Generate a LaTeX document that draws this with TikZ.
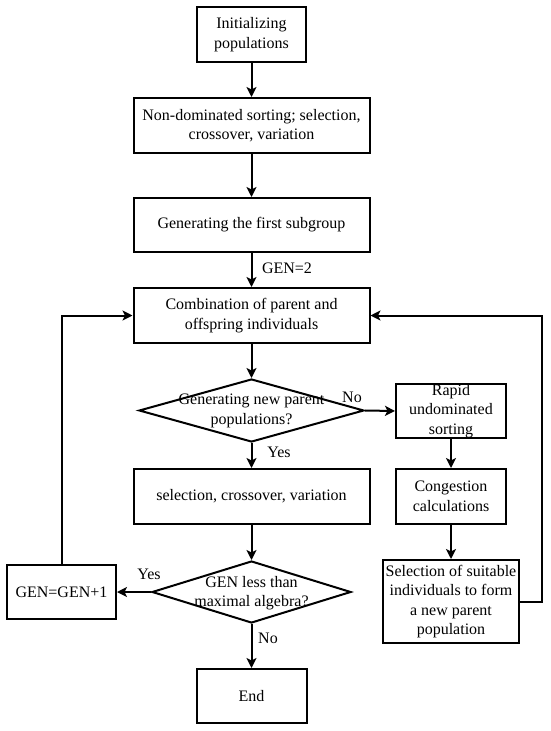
\documentclass[tikz,border=0pt]{standalone}
\usepackage{fontspec}
\setmainfont{Liberation Serif}
\usetikzlibrary{shapes.geometric,arrows.meta}
\begin{document}
\begin{tikzpicture}[x=1pt,y=-1pt,
  every node/.style={font=\fontsize{16}{19.5}\selectfont, align=center, inner sep=0pt},
  box/.style={draw, line width=2pt, rectangle},
  dia/.style={draw, line width=2pt, diamond},
  lbl/.style={font=\fontsize{16}{19.5}\selectfont},
  arr/.style={line width=2pt, -{Stealth[length=10pt,width=10pt,inset=2.5pt]}},
  ln/.style={line width=2pt}]
\useasboundingbox (0,0) rectangle (550,731);
\node[box, minimum width=109pt, minimum height=55pt] (b1) at (251.5,34.5) {Initializing\\populations};
\node[box, minimum width=236pt, minimum height=55pt] (b2) at (251.5,125.5) {Non-dominated sorting; selection,\\crossover, variation};
\node[box, minimum width=236pt, minimum height=54pt] (b3) at (251.5,225) {Generating the first subgroup};
\node[box, minimum width=236pt, minimum height=55pt] (b4) at (251.5,315.5) {Combination of parent and\\offspring individuals};
\node[dia, minimum width=225pt, minimum height=63pt] (d1) at (251.5,410.5) {};
\node (d1t) at (251.5,411) {Generating new parent\\populations?};
\node[box, minimum width=110pt, minimum height=54pt] (r1) at (451,411) {Rapid\\undominated\\sorting};
\node[box, minimum width=236pt, minimum height=55pt] (b5) at (251.5,496.5) {selection, crossover, variation};
\node[box, minimum width=110pt, minimum height=55pt] (r2) at (451,496.5) {Congestion\\calculations};
\node[dia, minimum width=199pt, minimum height=62pt] (d2) at (251.5,592) {};
\node (d2t) at (251.5,593) {GEN less than\\maximal algebra?};
\node[box, minimum width=109pt, minimum height=54pt] (g) at (61.5,592) {GEN=GEN+1};
\node[box, minimum width=136pt, minimum height=83pt] (r3) at (451,601.5) {Selection of suitable\\individuals to form\\a new parent\\population};
\node[box, minimum width=110pt, minimum height=54pt] (e) at (251.5,696) {End};
\coordinate (lc) at (61.5,315.5);
\coordinate (rc1) at (542,601.5);
\coordinate (rc2) at (542,315.5);
\draw[arr] (b1) -- (b2);
\draw[arr] (b2) -- (b3);
\draw[arr] (b3) -- (b4);
\node[lbl] (t1) at (287,268) {GEN=2};
\draw[arr] (b4) -- (d1.north);
\draw[arr] (d1.east) -- (r1.west);
\node[lbl] (tno1) at (352,397) {No};
\draw[arr] (d1.south) -- (b5.north);
\node[lbl] (tyes1) at (279,452) {Yes};
\draw[arr] (r1) -- (r2);
\draw[arr] (r2) -- (r3);
\draw[arr] (b5.south) -- (d2.north);
\draw[arr] (d2.west) -- (g.east);
\node[lbl] (tyes2) at (149,574) {Yes};
\draw[arr] (d2.south) -- (e.north);
\node[lbl] (tno2) at (268,638) {No};
\draw[arr] (g.north) -- (lc) -- (b4.west);
\draw[arr] (r3.east) -- (rc1) -- (rc2) -- (b4.east);
\end{tikzpicture}
\end{document}
